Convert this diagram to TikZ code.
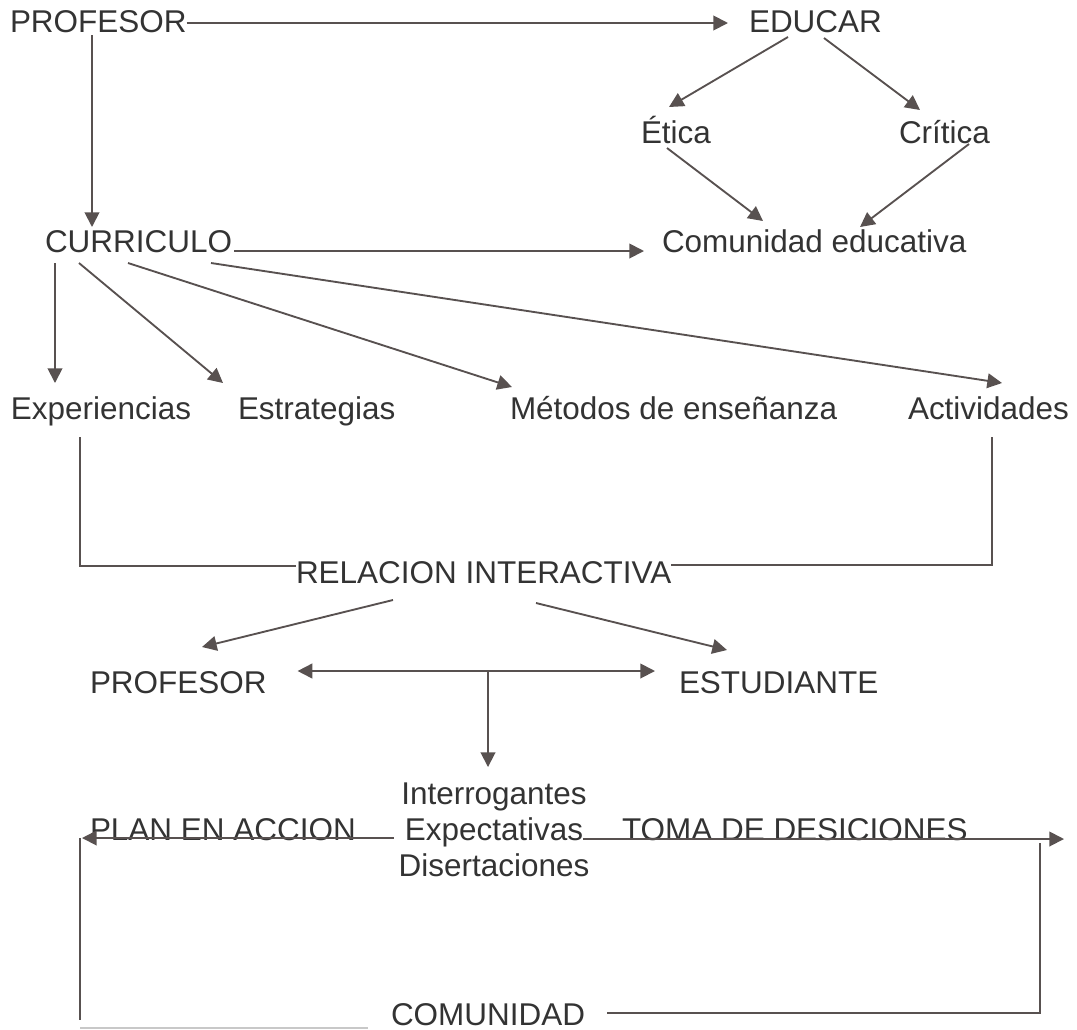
\documentclass[tikz,border=0pt]{standalone}
\usepackage{fontspec}
\setmainfont{Liberation Sans}
\usetikzlibrary{arrows.meta,calc}
\definecolor{linec}{RGB}{88,81,80}
\definecolor{textc}{RGB}{51,51,51}
\definecolor{faint}{RGB}{200,200,200}
\begin{document}
\begin{tikzpicture}[x=0.75pt,y=-0.75pt,
  lbl/.style={inner sep=0pt, outer sep=0pt, anchor=base west, text=textc, font=\fontsize{23.6}{27}\selectfont},
  conn/.style={draw=linec, line width=1.4pt},
  arr/.style={conn, -{Triangle[length=11pt,width=11pt]}},
  darr/.style={conn, {Triangle[length=11pt,width=11pt]}-{Triangle[length=11pt,width=11pt]}}
  ]
\useasboundingbox (0,0) rectangle (1077,1029);

% nodes
\node[lbl] (p1) at (10,32) {PROFESOR};
\node[lbl] (edu) at (749,32) {EDUCAR};
\node[lbl] (etica) at (641,143) {Ética};
\node[lbl] (critica) at (899,143) {Crítica};
\node[lbl] (curr) at (45,252) {CURRICULO};
\node[lbl] (comed) at (662,252) {Comunidad educativa};
\node[lbl] (exp) at (11,419) {Experiencias};
\node[lbl] (est) at (238,419) {Estrategias};
\node[lbl] (met) at (510,419) {Métodos de enseñanza};
\node[lbl] (act) at (908,419) {Actividades};
\node[lbl] (rel) at (296,583) {RELACION INTERACTIVA};
\node[lbl] (p2) at (90,693) {PROFESOR};
\node[lbl] (estu) at (679,693) {ESTUDIANTE};
\node[lbl, anchor=center, align=center] (ied) at (494,830) {Interrogantes\\Expectativas\\Disertaciones};
\node[lbl] (plan) at (90,840) {PLAN EN ACCION};
\node[lbl] (toma) at (622,840) {TOMA DE DESICIONES};
\node[lbl] (comu) at (391,1025) {COMUNIDAD};

% top part
\draw[arr] ($(p1.base east)+(0,-9)$) -- ($(edu.base west)+(-21,-9)$);
\draw[arr] ($(p1.base west)+(82,3)$) -- ($(curr.base west)+(47,-25)$);
\draw[arr] ($(edu.base west)+(39,5)$) -- ($(etica.base west)+(28,-36)$);
\draw[arr] ($(edu.base west)+(75,6)$) -- ($(critica.base west)+(21,-33)$);
\draw[arr] ($(etica.base west)+(26,5)$) -- ($(comed.base west)+(101,-31)$);
\draw[arr] ($(critica.base west)+(70,1)$) -- ($(comed.base west)+(198,-25)$);
\draw[arr] ($(curr.base east)+(2,-1)$) -- ($(comed.base west)+(-18,-1)$);

% curriculo children
\draw[arr] ($(curr.base west)+(10,11)$) -- ($(exp.base west)+(44,-36)$);
\draw[arr] ($(curr.base west)+(34,11)$) -- ($(est.base west)+(-15,-36)$);
\draw[arr] ($(curr.base west)+(83,11)$) -- ($(met.base west)+(2,-32)$);
\draw[arr] ($(curr.base west)+(166,11)$) -- ($(act.base west)+(94,-36)$);

% brackets into relacion
\draw[conn] ($(exp.base west)+(69,18)$) |- ($(rel.base west)+(0,-17)$);
\draw[conn] ($(act.base west)+(84,18)$) |- ($(rel.base east)+(0,-18)$);

% relacion children
\draw[arr] ($(rel.base west)+(97,17)$) -- ($(p2.base west)+(112,-46)$);
\draw[arr] ($(rel.base west)+(240,20)$) -- ($(estu.base west)+(48,-43)$);
\draw[darr] ($(p2.base east)+(31,-22)$) -- ($(estu.base west)+(-24,-22)$);
\draw[arr] ($(ied.north)+(-6,-112)$) -- ($(ied.north)+(-6,-16)$);

% bottom loop
\draw[arr] ($(ied.west)+(-5,8)$) -- ($(plan.base west)+(-8,-2)$);
\draw[conn] ($(plan.base west)+(-10,-2)$) -- ($(plan.base west)+(-10,180)$);
\draw[draw=faint, line width=0.8pt] ($(plan.base west)+(-10,188)$) -- ($(comu.base west)+(-23,3)$);
\draw[arr] ($(ied.east)+(-6,9)$) -- ($(toma.base west)+(442,-1)$);
\draw[conn] ($(toma.base west)+(418,3)$) |- ($(comu.base east)+(22,-12)$);
\end{tikzpicture}
\end{document}
